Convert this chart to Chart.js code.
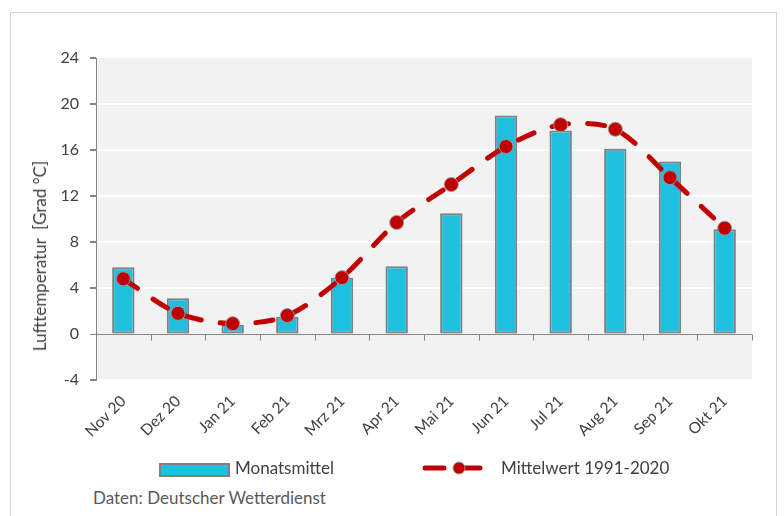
<!DOCTYPE html>
<html lang="de">
<head>
<meta charset="utf-8">
<script src="https://cdn.jsdelivr.net/npm/chart.js@4.4.1/dist/chart.umd.min.js"></script>
<style>
  html,body{margin:0;padding:0;background:#fff;}
  body{width:784px;height:516px;position:relative;overflow:hidden;font-family:Lato,"Open Sans",sans-serif;color:#404040;}
  .frame{position:absolute;left:10px;top:12px;width:767px;height:520px;border:1px solid #d4d4d4;box-sizing:border-box;}
  #wrap{position:absolute;left:0;top:0;width:784px;height:460px;}
  .lg{position:absolute;top:458px;font-size:17px;line-height:20px;white-space:nowrap;}
  .sw-bar{position:absolute;left:159px;top:463px;width:67px;height:10px;background:#1fbfdf;border:2px solid #808080;box-sizing:content-box;}
  .sw-line{position:absolute;left:420px;top:457px;}
  .src{position:absolute;left:93px;top:487px;font-size:17px;color:#595959;white-space:nowrap;}
  .ytitle{position:absolute;left:40px;top:256px;transform:translate(-50%,-50%) rotate(-90deg);font-size:17px;white-space:pre;line-height:18px;}
</style>
</head>
<body>
<div class="frame"></div>
<div id="wrap"><canvas id="chart" width="784" height="460"></canvas></div>

<div class="ytitle">Lufttemperatur  [Grad °C]</div>
<div class="sw-bar"></div>
<div class="lg" style="left:235px;">Monatsmittel</div>
<svg class="sw-line" width="66" height="22">
  <line x1="5" y1="11" x2="24" y2="11" stroke="#c00000" stroke-width="5" stroke-linecap="round"/>
  <line x1="37" y1="11" x2="60" y2="11" stroke="#c00000" stroke-width="5" stroke-linecap="round"/>
  <circle cx="39" cy="11" r="6" fill="#c00000" stroke="#999" stroke-width="1"/>
</svg>
<div class="lg" style="left:501px;">Mittelwert 1991-2020</div>
<div class="src">Daten: Deutscher Wetterdienst</div>

<script>
// Monate (Nov 2020 – Okt 2021)
const months = ["Nov 20","Dez 20","Jan 21","Feb 21","Mrz 21","Apr 21","Mai 21","Jun 21","Jul 21","Aug 21","Sep 21","Okt 21"];
// Monatsmittel der Lufttemperatur
const monthlyMean = [5.8, 3.1, 0.8, 1.5, 4.9, 5.9, 10.5, 19.0, 17.7, 16.1, 15.0, 9.1];
// langjähriges Mittel 1991-2020
const refMean = [4.8, 1.8, 0.9, 1.6, 4.9, 9.7, 13.0, 16.3, 18.2, 17.8, 13.6, 9.2];
const yTicks = {min:-4, max:24, step:4};

const TXT = "#404040";
const AXIS = "#868686";

// grauer Hintergrund der Plotfläche
const plotBg = {
  id:"plotBg",
  beforeDraw(chart){
    const {ctx, chartArea:a} = chart;
    ctx.save();
    ctx.fillStyle = "#f2f2f2";
    ctx.fillRect(a.left, a.top, a.right-a.left, a.bottom-a.top);
    ctx.restore();
  }
};

// Kategorie-Striche auf der Nulllinie (wie in Excel)
const zeroTicks = {
  id:"zeroTicks",
  beforeDatasetsDraw(chart){
    const {ctx, scales:{x,y}} = chart;
    const y0 = Math.round(y.getPixelForValue(0)) + 0.5;
    const half = (x.getPixelForValue(1) - x.getPixelForValue(0))/2;
    ctx.save();
    ctx.strokeStyle = AXIS;
    ctx.lineWidth = 1;
    ctx.beginPath();
    for(let i=0;i<=months.length;i++){
      const px = Math.round(x.getPixelForValue(i) - half) + 0.5;
      ctx.moveTo(px, y0);
      ctx.lineTo(px, y0+6);
    }
    ctx.stroke();
    ctx.restore();
  }
};

new Chart(document.getElementById("chart").getContext("2d"), {
  type:"bar",
  data:{
    labels: months,
    datasets:[
      {
        type:"line",
        label:"Mittelwert 1991-2020",
        data: refMean,
        borderColor:"#c00000",
        borderWidth:5,
        borderDash:[17,19],
        borderCapStyle:"round",
        tension:0.3,
        pointRadius:7,
        pointBackgroundColor:"#c00000",
        pointBorderColor:"#999",
        pointBorderWidth:1,
        order:0,
      },
      {
        label:"Monatsmittel",
        data: monthlyMean,
        backgroundColor:"#1fbfdf",
        borderColor:"#808080",
        borderWidth:2,
        borderSkipped:false,
        barPercentage:0.41,
        categoryPercentage:1,
        order:1,
      },
    ],
  },
  options:{
    responsive:false,
    animation:false,
    layout:{padding:{left:24, right:32, top:58, bottom:0}},
    plugins:{legend:{display:false}, tooltip:{enabled:false}},
    scales:{
      x:{
        offset:true,
        grid:{display:false},
        border:{display:false},
        ticks:{color:TXT, font:{family:"Lato", size:15.5}, maxRotation:45, minRotation:45, padding:4},
        afterFit(s){ s.height = 80; },
      },
      y:{
        min:yTicks.min, max:yTicks.max,
        ticks:{stepSize:yTicks.step, color:TXT, font:{family:"Lato", size:16}, padding:11},
        grid:{
          color:(c)=> c.tick && c.tick.value===0 ? AXIS : (c.tick && c.tick.value===yTicks.max ? "rgba(0,0,0,0)" : "#ffffff"),
          lineWidth:(c)=> c.tick && c.tick.value===0 ? 1 : 2,
          tickColor:AXIS,
          tickLength:6,
        },
        border:{display:true, color:AXIS},
        afterFit(s){ s.width = 72; },
      },
    },
  },
  plugins:[plotBg, zeroTicks],
});
</script>
</body>
</html>
